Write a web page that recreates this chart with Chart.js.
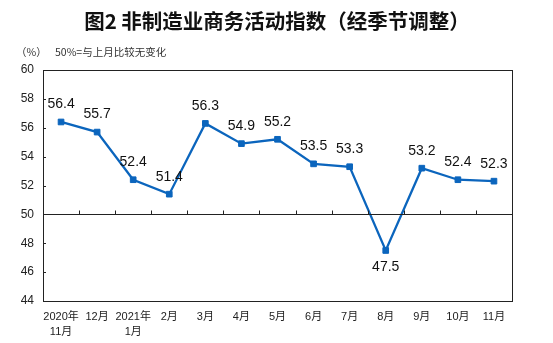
<!DOCTYPE html>
<html>
<head>
<meta charset="utf-8">
<script src="https://cdn.jsdelivr.net/npm/chart.js@4/dist/chart.umd.min.js"></script>
<style>
  html, body { margin: 0; padding: 0; background: #fff; }
  #wrap { width: 553px; height: 343px; position: relative; }
</style>
</head>
<body>
<div id="wrap"><canvas id="pmiChart" width="553" height="343"></canvas></div>
<script>
// 非制造业商务活动指数（经季节调整），2020年11月至2021年11月
const months = [
  ['2020年', '11月'], '12月', ['2021年', '1月'], '2月', '3月', '4月',
  '5月', '6月', '7月', '8月', '9月', '10月', '11月'
];
const indexValues = [56.4, 55.7, 52.4, 51.4, 56.3, 54.9, 55.2, 53.5, 53.3, 47.5, 53.2, 52.4, 52.3];
const yMin = 44;
const yMax = 60;
const yStep = 2;
const baseline = 50;

const titleText = '图2 非制造业商务活动指数（经季节调整）';
const unitText = '（%）';
const noteText = '50%=与上月比较无变化';

const BLUE = '#0b65bd';
const CJK = '"Liberation Sans", "Noto Sans CJK SC", sans-serif';

// 标题、单位和说明文字
const headerPlugin = {
  id: 'header',
  afterDraw(chart) {
    const c = chart.ctx;
    c.save();
    c.fillStyle = '#111';
    c.textBaseline = 'middle';
    c.textAlign = 'center';
    c.font = 'bold 20.5px "Noto Sans CJK SC", sans-serif';
    c.fillText(titleText, 277, 21);
    c.textAlign = 'left';
    c.fillStyle = '#333';
    c.font = '10.5px "Noto Sans CJK SC", sans-serif';
    c.fillText(unitText, 16, 52);
    c.fillText(noteText, 55, 52);
    c.restore();
  }
};

// 外框、50线及刻度
const framePlugin = {
  id: 'frame',
  afterDraw(chart) {
    const { ctx: c, chartArea: a, scales } = chart;
    const x = scales.x, y = scales.y;
    c.save();
    c.strokeStyle = '#222';
    c.lineWidth = 1;
    c.strokeRect(Math.round(a.left) + 0.5, Math.round(a.top) + 0.5,
                 Math.round(a.right - a.left), Math.round(a.bottom - a.top));

    const y50 = Math.round(y.getPixelForValue(baseline)) + 0.5;
    c.beginPath();
    c.moveTo(a.left, y50);
    c.lineTo(a.right, y50);
    // 分类间隔刻度，向上
    for (let i = 1; i < months.length; i++) {
      const bx = Math.round((x.getPixelForTick(i - 1) + x.getPixelForTick(i)) / 2) + 0.5;
      c.moveTo(bx, y50);
      c.lineTo(bx, y50 - 4);
    }
    // 纵轴刻度，向内
    for (let v = yMin + yStep; v < yMax; v += yStep) {
      const ty = Math.round(y.getPixelForValue(v)) + 0.5;
      c.moveTo(a.left, ty);
      c.lineTo(a.left + 3, ty);
    }
    c.stroke();
    c.restore();
  }
};

// 数据标签
const valueLabelPlugin = {
  id: 'valueLabels',
  afterDatasetsDraw(chart) {
    const c = chart.ctx;
    const meta = chart.getDatasetMeta(0);
    const data = chart.data.datasets[0].data;
    c.save();
    c.font = '14px "Liberation Sans", Arial, sans-serif';
    c.fillStyle = '#111';
    c.textAlign = 'center';
    c.textBaseline = 'middle';
    meta.data.forEach((pt, i) => {
      const v = data[i];
      const dy = v < baseline ? 17 : -17.5;
      c.fillText(v.toFixed(1), pt.x, pt.y + dy);
    });
    c.restore();
  }
};

const ctx = document.getElementById('pmiChart').getContext('2d');
new Chart(ctx, {
  type: 'line',
  data: {
    labels: months,
    datasets: [{
      data: indexValues,
      borderColor: BLUE,
      backgroundColor: BLUE,
      borderWidth: 2.3,
      tension: 0,
      fill: false,
      pointStyle: 'rect',
      pointRadius: 4,
      pointBorderWidth: 1,
      pointBackgroundColor: BLUE,
      pointBorderColor: BLUE
    }]
  },
  options: {
    responsive: false,
    animation: false,
    layout: { padding: { top: 70, left: 0, right: 41, bottom: 0 } },
    plugins: {
      legend: { display: false },
      tooltip: { enabled: false },
      title: { display: false }
    },
    scales: {
      x: {
        offset: true,
        grid: { display: false },
        border: { display: false },
        ticks: {
          color: '#222',
          font: { family: CJK, size: 11, lineHeight: 1.4 },
          padding: 0,
          maxRotation: 0,
          autoSkip: false
        },
        afterFit(scale) { scale.height = 42; }
      },
      y: {
        min: yMin,
        max: yMax,
        grid: { display: false },
        border: { display: false },
        ticks: {
          stepSize: yStep,
          color: '#222',
          font: { family: '"Liberation Sans", Arial, sans-serif', size: 12 },
          padding: 1
        },
        afterFit(scale) { scale.width = 43; }
      }
    }
  },
  plugins: [headerPlugin, framePlugin, valueLabelPlugin]
});
</script>
</body>
</html>
